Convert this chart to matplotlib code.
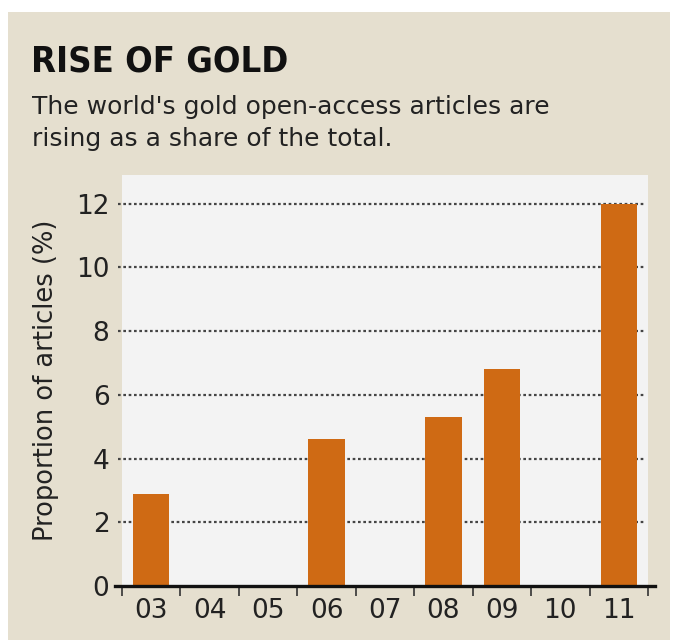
import matplotlib
matplotlib.use("Agg")
import matplotlib.pyplot as plt
from matplotlib.patches import Rectangle
import numpy as np

years = ["03", "04", "05", "06", "07", "08", "09", "10", "11"]
values = [2.9, 0, 0, 4.6, 0, 5.3, 6.8, 0, 12.0]
yticks = [0, 2, 4, 6, 8, 10, 12]

W, H = 676, 643
fig = plt.figure(figsize=(W / 100, H / 100), dpi=100)
fig.patch.set_facecolor("white")

bg = "#e5dfcf"
fig.patches.append(Rectangle((8 / W, 1 - 640 / H), 662 / W, (640 - 12) / H,
                             transform=fig.transFigure, facecolor=bg, edgecolor="none", zorder=-10))

x0, x1 = 122, 648
ybot, ytop = 586, 175
ax = fig.add_axes([x0 / W, 1 - ybot / H, (x1 - x0) / W, (ybot - ytop) / H])
ax.set_zorder(1)
ax.set_facecolor("#f3f3f3")
x = np.arange(len(years))
ax.bar(x, values, width=0.62, color="#cf6a14", zorder=3)
ax.set_xlim(-0.5, len(years) - 0.5)
ax.set_ylim(0, 12.9)

for s in ["top", "right", "left", "bottom"]:
    ax.spines[s].set_visible(False)

for v in yticks[1:]:
    ax.axhline(v, xmin=-0.008, xmax=0.995, color="#444444", lw=1.6,
               ls=(0, (1.2, 1.2)), zorder=2, clip_on=False)
ax.axhline(0, xmin=-0.014, xmax=1.013, color="#111111", lw=2.4, zorder=4, clip_on=False)

ax.set_yticks(yticks)
ax.set_yticklabels([str(v) for v in yticks], fontsize=19, color="#222222")
ax.tick_params(axis="y", length=0, pad=9)

ax.set_xticks(x)
ax.set_xticklabels(years, fontsize=19, color="#222222")
ax.tick_params(axis="x", which="major", length=0, pad=9)
ax.set_xticks(np.arange(-0.5, len(years), 1), minor=True)
ax.tick_params(axis="x", which="minor", length=7, width=1.2, color="#333333", direction="out")

ax.set_ylabel("Proportion of articles (%)", fontsize=18.5, color="#222222", labelpad=12)

fig.text(31 / W, 1 - 72 / H, "RISE OF GOLD", fontsize=26, fontweight="bold",
         family="DejaVu Sans", fontstretch="condensed",
         color="#111111", va="baseline")
fig.text(32 / W, 1 - 114 / H, "The world's gold open-access articles are", fontsize=18,
         family="DejaVu Sans", color="#222222", va="baseline")
fig.text(32 / W, 1 - 146 / H, "rising as a share of the total.", fontsize=18,
         family="DejaVu Sans", color="#222222", va="baseline")

fig.savefig("out.png", dpi=100, facecolor=fig.get_facecolor())
